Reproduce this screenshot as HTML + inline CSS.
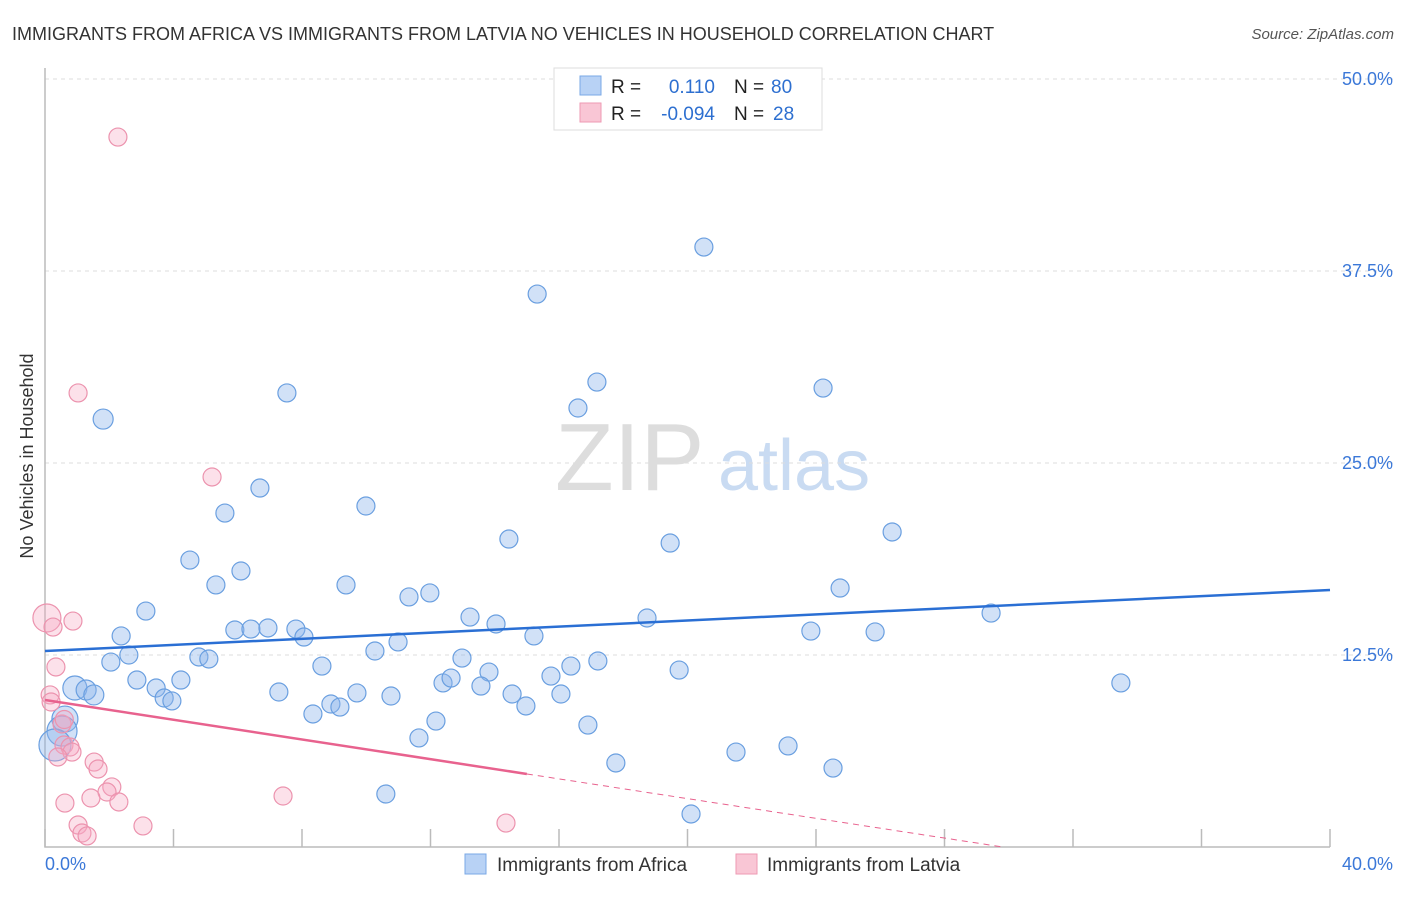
<!DOCTYPE html>
<html><head><meta charset="utf-8"><style>
body{margin:0;background:#fff;font-family:"Liberation Sans",sans-serif;}
svg text{font-family:"Liberation Sans",sans-serif;}
</style></head><body>
<svg id="c" width="1406" height="892">
<text x="12" y="40" font-size="18" fill="#333">IMMIGRANTS FROM AFRICA VS IMMIGRANTS FROM LATVIA NO VEHICLES IN HOUSEHOLD CORRELATION CHART</text>
<text x="1394" y="39" font-size="15" fill="#555" font-style="italic" text-anchor="end">Source: ZipAtlas.com</text>
<text x="33" y="456" font-size="18" fill="#333" text-anchor="middle" transform="rotate(-90 33 456)">No Vehicles in Household</text>
<text x="555" y="490" font-size="96" fill="#ddd" font-family="Liberation Serif">ZIP</text>
<text x="718" y="490" font-size="72" fill="#c9dbf2">atlas</text>
<g id="grid"></g><g id="axes"></g><g id="pts"></g><g id="lines"></g>
<g>
<rect x="554" y="68" width="268" height="62" fill="#fff" stroke="#ddd"/>
<rect x="580" y="76" width="21" height="19" fill="#b8d2f5" stroke="#7aa8e6"/>
<rect x="580" y="103" width="21" height="19" fill="#f9c6d5" stroke="#ee9ab3"/>
<text x="611" y="93" font-size="19" fill="#222">R = </text><text x="715" y="93" font-size="19" fill="#2d6fd0" text-anchor="end">0.110</text>
<text x="734" y="93" font-size="19" fill="#222">N = </text><text x="771" y="93" font-size="19" fill="#2d6fd0">80</text>
<text x="611" y="120" font-size="19" fill="#222">R = </text><text x="715" y="120" font-size="19" fill="#2d6fd0" text-anchor="end">-0.094</text>
<text x="734" y="120" font-size="19" fill="#222">N = </text><text x="773" y="120" font-size="19" fill="#2d6fd0">28</text>
</g>
<g>
<rect x="465" y="854" width="21" height="20" fill="#b8d2f5" stroke="#7aa8e6"/>
<text x="497" y="871" font-size="19" fill="#333">Immigrants from Africa</text>
<rect x="736" y="854" width="21" height="20" fill="#f9c6d5" stroke="#ee9ab3"/>
<text x="767" y="871" font-size="19" fill="#333">Immigrants from Latvia</text>
</g>
</svg>
<script>
const africaX=[20.51,15.32,17.18,16.59,24.22,1.81,7.53,6.69,5.60,9.99,14.44,19.46,26.37,4.51,6.10,5.32,9.37,11.33,11.98,24.75,3.14,13.23,14.04,18.74,29.45,2.37,5.91,6.41,6.94,7.81,8.06,15.22,23.84,25.84,10.99,10.27,2.61,2.05,4.79,5.10,8.62,12.98,16.37,17.21,19.74,13.82,15.75,2.86,4.23,0.93,1.28,1.52,3.46,3.71,3.95,7.28,9.71,10.77,12.39,12.64,13.57,14.54,16.06,14.97,8.90,9.18,8.34,12.17,16.90,0.62,0.53,0.31,11.64,21.51,23.13,17.77,24.53,10.61,20.11,33.49];
const africaY=[39.06,36.0,30.27,28.58,29.88,27.86,29.56,23.37,21.74,22.2,20.05,19.79,20.51,18.68,17.97,17.06,17.06,16.28,16.54,16.86,15.36,14.97,14.52,14.91,15.23,13.74,14.13,14.19,14.26,14.19,13.67,13.74,14.06,14.0,13.35,12.76,12.5,12.04,12.37,12.24,11.78,12.3,11.78,12.11,11.52,11.39,11.13,10.87,10.87,10.35,10.22,9.90,10.35,9.70,9.51,10.09,10.03,9.83,10.68,11.0,10.48,9.96,9.96,9.18,9.31,9.11,8.66,8.20,7.94,8.33,7.55,6.64,7.10,6.18,6.58,5.47,5.14,3.45,2.15,10.68];
const africaSize=[9,9,9,9,9,10,9,9,9,9,9,9,9,9,9,9,9,9,9,9,9,9,9,9,9,9,9,9,9,9,9,9,9,9,9,9,9,9,9,9,9,9,9,9,9,9,9,9,9,12,10,10,9,9,9,9,9,9,9,9,9,9,9,9,9,9,9,9,9,13,15,16,9,9,9,9,9,9,9,9];
const latviaX=[2.27,1.03,5.20,0.06,0.25,0.87,0.34,0.16,0.19,0.53,0.59,0.78,0.84,0.40,1.53,1.65,2.08,1.93,1.43,2.30,0.62,7.41,1.03,1.15,1.31,3.05,14.35,0.60];
const latviaY=[46.22,29.56,24.09,14.91,14.32,14.71,11.72,9.90,9.44,8.01,6.64,6.51,6.18,5.86,5.53,5.08,3.91,3.58,3.19,2.93,2.86,3.32,1.43,0.91,0.72,1.37,1.56,8.3];
const latviaSize=[9,9,9,14,9,9,9,9,9,9,9,9,9,9,9,9,9,9,9,9,9,9,9,9,9,9,9,9];
const yTicks=[12.5,25.0,37.5,50.0];
const xTickLabels=["0.0%","40.0%"];
const africaTrend=[12.76,16.73];
const latviaTrend=[9.57,-0.321];
const NS="http://www.w3.org/2000/svg";
const xs=v=>45+v*32.125, ys=v=>847-v*15.36;
function mk(p,t,a){const e=document.createElementNS(NS,t);for(const k in a)e.setAttribute(k,a[k]);document.getElementById(p).appendChild(e);return e;}
yTicks.forEach(t=>{
 const g=mk('grid','line',{x1:45,x2:1393,y1:ys(t),y2:ys(t),stroke:'#ddd','stroke-dasharray':'4,4'});
 
 
 const l=mk('grid','text',{x:1393,y:ys(t)+6,'font-size':18,fill:'#3b78d8','text-anchor':'end'});l.textContent=t.toFixed(1)+'%';
 
 
});
const ax=mk('axes','path',{d:'M45 68V847H1330',stroke:'#bbb',fill:'none','stroke-width':1.5});


for(let i=0;i<=10;i++){const t=mk('axes','line',{x1:xs(i*4),x2:xs(i*4),y1:829,y2:847,stroke:'#bbb','stroke-width':1.5});
 
 }
[[0,'start',45],[1,'end',1393]].forEach(([i,a,x])=>{const l=mk('axes','text',{x:x,y:870,'font-size':18,fill:'#3b78d8','text-anchor':a});l.textContent=xTickLabels[i];
 
 });
africaX.forEach((v,i)=>{const c=mk('pts','circle',{cx:xs(v),cy:ys(africaY[i]),r:africaSize[i],fill:'rgba(140,180,235,0.4)',stroke:'#6a9fe0','stroke-width':1.2});
 
 });
latviaX.forEach((v,i)=>{const c=mk('pts','circle',{cx:xs(v),cy:ys(latviaY[i]),r:latviaSize[i],fill:'rgba(245,170,195,0.35)',stroke:'#ec93ae','stroke-width':1.2});
 
 });
const bl=mk('lines','line',{x1:xs(0),y1:ys(africaTrend[0]),x2:xs(40),y2:ys(africaTrend[1]),stroke:'#2a6fd4','stroke-width':2.5});


const lt=x=>latviaTrend[0]+latviaTrend[1]*x;
const pl=mk('lines','line',{x1:xs(0),y1:ys(lt(0)),x2:xs(15),y2:ys(lt(15)),stroke:'#e8628e','stroke-width':2.5});


const xe=Math.min(40,latviaTrend[0]/-latviaTrend[1]);
const pd=mk('lines','line',{x1:xs(15),y1:ys(lt(15)),x2:xs(xe),y2:ys(lt(xe)),stroke:'#e8628e','stroke-width':1,'stroke-dasharray':'6,5'});


</script>
</body></html>
